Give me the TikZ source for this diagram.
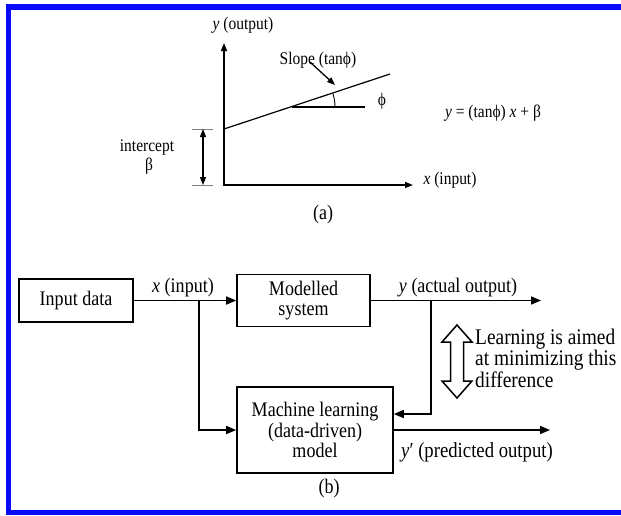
\documentclass[tikz,border=0pt]{standalone}
\usepackage{fontspec}
\setmainfont{Liberation Serif}[FakeStretch=0.87]
\usetikzlibrary{arrows.meta,calc}
\definecolor{frameblue}{RGB}{10,10,250}
\begin{document}
\begin{tikzpicture}[x=1pt,y=-1pt,
  lbla/.style={font=\fontsize{17.8}{19}\selectfont, inner sep=0pt},
  lblb/.style={font=\fontsize{20.7}{20}\selectfont, inner sep=0pt},
  blk/.style={draw, line width=1.6pt, align=center, inner sep=0pt,
              font=\fontsize{20.7}{20.5}\selectfont},
  conn/.style={line width=1.6pt, -{Triangle[length=10pt,width=8pt]}},
  axis/.style={line width=1.6pt, {Triangle[length=8pt,width=6pt]}-{Triangle[length=8pt,width=6pt]}},
  thinline/.style={line width=1.2pt},
  guide/.style={line width=0.7pt, gray},
]
\useasboundingbox (0,0) rectangle (621,515);

% frame
\fill[frameblue] (6,4) rectangle (621,10);
\fill[frameblue] (6,4) rectangle (11,515);
\fill[frameblue] (6,510) rectangle (621,515);

% ---------- (a) linear relation ----------
\coordinate (ytop) at (224,43);
\coordinate (orig) at (224,185);
\coordinate (xend) at (413,185);
\draw[axis] (ytop) -- (orig) -- (xend);

\coordinate (lstart) at (224,129);
\coordinate (lend) at (390,74);
\draw[thinline] (lstart) -- (lend);

\coordinate (apex) at (292,107);
\coordinate (hend) at (365,107);
\draw[thinline] (apex) -- (hend);
\draw[line width=0.9pt] ($(apex)+(43,0)$) arc[start angle=0, end angle=-18.3, radius=43];

\node[lbla] (phi) at (382,101) {ϕ};
\node[lbla] (slope) at (318,60) {Slope (tanϕ)};
\coordinate (sfrom) at (310,62);
\coordinate (sto) at (335,85);
\draw[line width=1.3pt, -{Triangle[length=8pt,width=6pt]}] (sfrom) -- (sto);

% intercept marker
\coordinate (t1a) at (192,129); \coordinate (t1b) at (213,129);
\coordinate (t2a) at (192,185); \coordinate (t2b) at (213,185);
\draw[guide] (t1a) -- (t1b);
\draw[guide] (t2a) -- (t2b);
\coordinate (ia) at (203,129); \coordinate (ib) at (203,185);
\draw[line width=1.3pt, {Triangle[length=8pt,width=6pt]}-{Triangle[length=8pt,width=6pt]}] (ia) -- (ib);
\node[lbla] (icpt) at (147,147) {intercept};
\node[lbla] (beta) at (149,166) {β};

\node[lbla] (ylab) at (243,25) {\textit{y} (output)};
\node[lbla] (xlab) at (450,180) {\textit{x} (input)};
\node[lbla] (eqn) at (493,113) {\textit{y} = (tanϕ) \textit{x} + β};
\node[lblb] (capa) at (323,215) {(a)};

% ---------- (b) learning scheme ----------
\node[blk, minimum width=114pt, minimum height=43pt] (indata) at (76,300.5) {Input data};
\node[blk, minimum width=133pt, minimum height=52pt] (modsys) at (303.5,300.5) {Modelled\\system};
\node[blk, minimum width=156pt, minimum height=86pt] (mlmodel) at (315,430) {Machine learning\\(data-driven)\\model};

\draw[conn] (indata.east) -- (modsys.west);
\coordinate (bx) at (199,300.5);
\draw[conn] (bx) |- (mlmodel.west);

\coordinate (yout) at (541,300.5);
\draw[conn] (modsys.east) -- (yout);
\coordinate (fb) at (431,300.5);
\draw[conn] (fb) |- ([yshift=16pt]mlmodel.east);

\coordinate (ypred) at (550,430);
\draw[conn] (mlmodel.east) -- (ypred);

\node[lblb] (xin) at (183,288) {\textit{x} (input)};
\node[lblb] (yact) at (458,288) {\textit{y} (actual output)};
\node[lblb, font=\fontsize{21.5}{20}\selectfont] (ypr) at (477,452) {\textit{y}′ (predicted output)};

% hollow double arrow
\draw[line width=1.5pt, line join=miter]
  (457,325) -- (472,342) -- (463.5,342) -- (463.5,381) -- (472,381) -- (457,398)
  -- (442,381) -- (450.5,381) -- (450.5,342) -- (442,342) -- cycle;

\node[lblb, anchor=west, align=left, font=\fontsize{22.3}{20}\selectfont] (learn) at (475,358)
  {Learning is aimed\\at minimizing this\\difference};

\node[lblb] (capb) at (329,489) {(b)};
\end{tikzpicture}
\end{document}
